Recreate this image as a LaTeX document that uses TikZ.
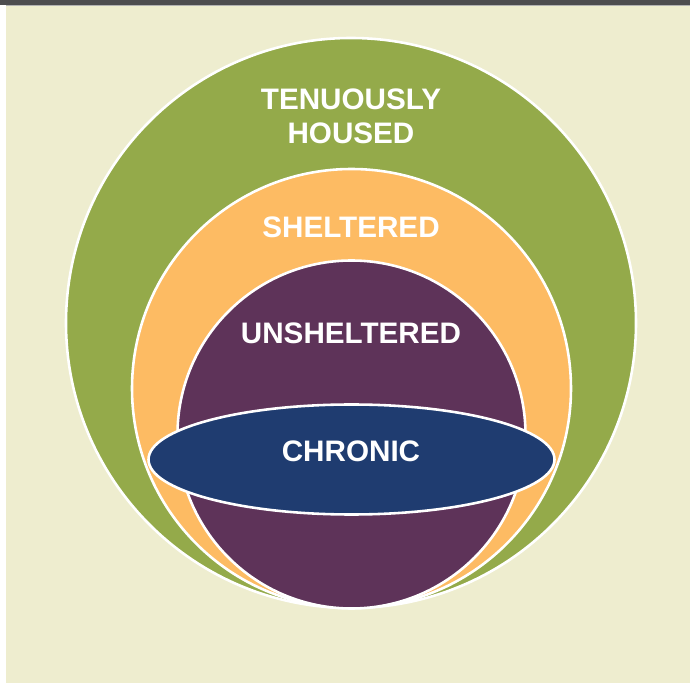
\documentclass[tikz,border=0pt]{standalone}
\usepackage{fontspec}
\setmainfont{Liberation Sans}
\definecolor{beige}{HTML}{EEEDCF}
\definecolor{bar}{HTML}{4D4D4F}
\definecolor{tenuous}{HTML}{94AA4A}
\definecolor{shelter}{HTML}{FDBB63}
\definecolor{unshelter}{HTML}{5E3359}
\definecolor{chronic}{HTML}{1F3C70}
\tikzset{
  ring/.style={draw=white, line width=2.2pt},
  lbl/.style={text=white, font=\fontsize{25.3}{29}\selectfont\bfseries, align=center, inner sep=0pt}
}
\begin{document}
\begin{tikzpicture}[x=0.03cm,y=-0.03cm]
\useasboundingbox (0,0) rectangle (690,683);
\fill[white] (0,0) rectangle (690,683);
\fill[beige] (6,5) rectangle (690,683);
\fill[bar] (0,0) rectangle (690,5);
\draw[gray!60, line width=0.6pt] (6,5.3) -- (690,5.3);

\filldraw[ring, fill=tenuous] (351,323) circle (285);
\filldraw[ring, fill=shelter] (351.5,388.5) circle (219.5);
\filldraw[ring, fill=unshelter] (351.5,434.5) circle (174);
\filldraw[ring, fill=chronic] (351.5,459.5) ellipse (203 and 55);

\node[lbl] at (351,116)   (tenuous) {TENUOUSLY\\HOUSED};
\node[lbl] at (351,227)   (shelter) {SHELTERED};
\node[lbl] at (351,333)   (unshelter) {UNSHELTERED};
\node[lbl] at (351,451)   (chronic) {CHRONIC};
\end{tikzpicture}
\end{document}
